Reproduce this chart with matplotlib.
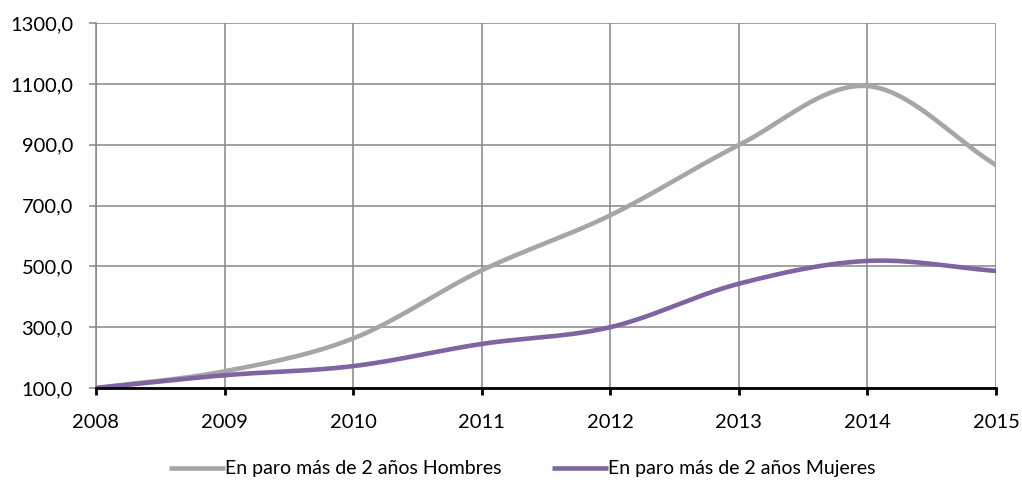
import numpy as np
import matplotlib
matplotlib.use('Agg')
import matplotlib.pyplot as plt

plt.rcParams['font.family'] = ['Lato', 'DejaVu Sans']

years = [2008, 2009, 2010, 2011, 2012, 2013, 2014, 2015]
hombres = [100.0, 155.0, 263.0, 487.0, 668.0, 899.0, 1093.0, 833.0]
mujeres = [100.0, 142.0, 172.0, 245.0, 300.0, 443.0, 518.0, 485.0]
yticks = [100, 300, 500, 700, 900, 1100, 1300]
labels = ['En paro más de 2 años Hombres', 'En paro más de 2 años Mujeres']
colors = ['#A6A6A6', '#8064A2']


def smooth(x, y, n=40):
    # catmull-rom through the points, like excel's smoothed line
    x = np.asarray(x, float)
    y = np.asarray(y, float)
    px = np.concatenate([[2 * x[0] - x[1]], x, [2 * x[-1] - x[-2]]])
    py = np.concatenate([[2 * y[0] - y[1]], y, [2 * y[-1] - y[-2]]])
    xs, ys = [], []
    t = np.linspace(0, 1, n)
    for i in range(1, len(px) - 2):
        for p, out in ((px, xs), (py, ys)):
            p0, p1, p2, p3 = p[i - 1], p[i], p[i + 1], p[i + 2]
            out.append(0.5 * (2 * p1 + (-p0 + p2) * t
                              + (2 * p0 - 5 * p1 + 4 * p2 - p3) * t ** 2
                              + (-p0 + 3 * p1 - 3 * p2 + p3) * t ** 3))
    return np.concatenate(xs), np.concatenate(ys)


fig = plt.figure(figsize=(10.22, 4.82), dpi=100)
ax = fig.add_axes([0.0939, 0.195, 0.8807, 0.757])

for vals, lab, c in zip([hombres, mujeres], labels, colors):
    sx, sy = smooth(years, vals)
    ax.plot(sx, sy, color=c, lw=3.3, label=lab, solid_capstyle='butt', zorder=3)

ax.set_xlim(years[0], years[-1])
ax.set_ylim(yticks[0], yticks[-1])
ax.set_xticks(years)
ax.set_yticks(yticks)
ax.set_yticklabels([f'{v:.1f}'.replace('.', ',') for v in yticks])
ax.grid(True, color='#868686', lw=1.1, zorder=1)
ax.set_axisbelow(True)

for s in ['top', 'right']:
    ax.spines[s].set_visible(False)
ax.spines['left'].set_color('#868686')
ax.spines['left'].set_linewidth(1.1)
ax.spines['bottom'].set_color('black')
ax.spines['bottom'].set_linewidth(2)
ax.spines['bottom'].set_zorder(4)

ax.tick_params(axis='x', length=5, width=2, color='black', labelsize=14.5, pad=14)
ax.tick_params(axis='y', length=5, width=1.1, color='#868686', labelsize=14.5, pad=11.5)

ax.legend(loc='center', bbox_to_anchor=(0.511, 0.027), bbox_transform=fig.transFigure,
          ncol=2, frameon=False, fontsize=14, handlelength=2.9, handletextpad=0.0,
          columnspacing=2.6, borderpad=0)

fig.savefig('out.png', dpi=100)
